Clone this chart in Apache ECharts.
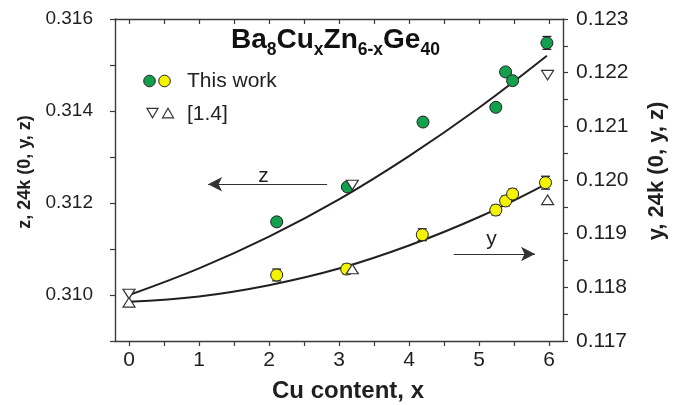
<!DOCTYPE html>
<html>
<head>
<meta charset="utf-8">
<script src="https://cdn.jsdelivr.net/npm/echarts@6/dist/echarts.min.js"></script>
<style>
  html, body { margin: 0; padding: 0; background: #fff; }
  #chart { width: 685px; height: 405px; }
</style>
</head>
<body>
<div id="chart"></div>
<script>
// Samples from this work: z of the 24k site (left axis)
const cuZ   = [2.11, 3.12, 4.2, 5.24, 5.38, 5.48, 5.97];
const zThis = [0.31159, 0.31235, 0.31376, 0.31408, 0.31485, 0.31466, 0.31548];
const zErr  = [0.00008, 0.00008, 0.00008, 0.00008, 0.00008, 0.00008, 0.00014];

// Samples from this work: y of the 24k site (right axis)
const cuY   = [2.11, 3.11, 4.19, 5.24, 5.38, 5.48, 5.95];
const yThis = [0.11823, 0.11834, 0.11898, 0.11944, 0.11961, 0.11974, 0.11995];
const yErr  = [0.00011, 0.00009, 0.00011, 0.00009, 0.00009, 0.00009, 0.00012];

// Literature values [1.4]
const cuRef = [0, 3.19, 5.98];
const zRef  = [0.31002, 0.31239, 0.31478];
const yRef  = [0.11772, 0.11834, 0.11963];

// Trend curves
const fitCuZ = [0, 1, 2, 3, 4, 5, 5.97];
const fitZ   = [0.31000, 0.31058, 0.31127, 0.31208, 0.31302, 0.31407, 0.31520];
const fitCuY = [0, 1, 2, 3, 4, 5, 5.95];
const fitY   = [0.11773, 0.11783, 0.11804, 0.11835, 0.11878, 0.11931, 0.11992];

// Axis ticks
const xTickValues  = [0, 0.5, 1, 1.5, 2, 2.5, 3, 3.5, 4, 4.5, 5, 5.5, 6];
const xLabelValues = [0, 1, 2, 3, 4, 5, 6];

const FONT = 'Liberation Sans, Arial, Helvetica, sans-serif';
const INK = '#1f1f1f';
const AXIS = '#3a3a3a';
const GREEN = '#12a04c';
const YELLOW = '#f4f400';

const pairs = (xs, ys, es) => xs.map((x, i) => es ? [x, ys[i], es[i]] : [x, ys[i]]);

// vertical error bar with short caps, drawn beneath the markers
function errorBar(params, api) {
  const x = api.value(0), v = api.value(1), e = api.value(2);
  const a = api.coord([x, v + e]);
  const b = api.coord([x, v - e]);
  const hw = 4.5;
  const st = { stroke: '#222', lineWidth: 1.3 };
  return {
    type: 'group',
    children: [
      { type: 'line', z2: 0, shape: { x1: a[0], y1: a[1], x2: b[0], y2: b[1] }, style: st },
      { type: 'line', z2: 0, shape: { x1: a[0] - hw, y1: a[1], x2: a[0] + hw, y2: a[1] }, style: st },
      { type: 'line', z2: 0, shape: { x1: b[0] - hw, y1: b[1], x2: b[0] + hw, y2: b[1] }, style: st }
    ]
  };
}

const chart = echarts.init(document.getElementById('chart'), null, { renderer: 'canvas' });

const xBase = {
  type: 'value', min: -0.2, max: 6.2,
  splitLine: { show: false },
  axisLine: { show: true, onZero: false, lineStyle: { color: AXIS, width: 1.4 } }
};

chart.setOption({
  animation: false,
  backgroundColor: '#fff',
  textStyle: { fontFamily: FONT },
  grid: { left: 115, right: 122, top: 19, bottom: 64, containLabel: false },
  xAxis: [
    Object.assign({}, xBase, {
      position: 'bottom',
      axisTick: { show: true, inside: false, length: 5, customValues: xTickValues, lineStyle: { color: AXIS, width: 1.2 } },
      axisLabel: { show: true, customValues: xLabelValues, margin: 9, fontSize: 21, color: INK, fontFamily: FONT }
    }),
    Object.assign({}, xBase, {
      position: 'top',
      axisTick: { show: true, inside: true, length: 5, customValues: xTickValues, lineStyle: { color: AXIS, width: 1.2 } },
      axisLabel: { show: false }
    })
  ],
  yAxis: [
    {
      type: 'value', position: 'left', min: 0.309, max: 0.316, interval: 0.001,
      splitLine: { show: false },
      axisLine: { show: true, onZero: false, lineStyle: { color: AXIS, width: 1.4 } },
      axisTick: { show: true, inside: false, length: 5, lineStyle: { color: AXIS, width: 1.2 } },
      axisLabel: {
        margin: 22, fontSize: 19, color: INK, fontFamily: FONT,
        formatter: v => { const k = Math.round(v * 1000); return k % 2 === 0 ? (k / 1000).toFixed(3) : ''; }
      }
    },
    {
      type: 'value', position: 'right', min: 0.117, max: 0.123, interval: 0.0005,
      splitLine: { show: false },
      axisLine: { show: true, onZero: false, lineStyle: { color: AXIS, width: 1.4 } },
      axisTick: { show: true, inside: false, length: 5, lineStyle: { color: AXIS, width: 1.2 } },
      axisLabel: {
        margin: 13, fontSize: 21, color: INK, fontFamily: FONT,
        formatter: v => { const k = Math.round(v * 2000); return k % 2 === 0 ? (k / 2000).toFixed(3) : ''; }
      }
    }
  ],
  series: [
    {
      name: 'z error', type: 'custom', xAxisIndex: 0, yAxisIndex: 0, z: 1,
      renderItem: errorBar, data: pairs(cuZ, zThis, zErr), silent: true
    },
    {
      name: 'y error', type: 'custom', xAxisIndex: 0, yAxisIndex: 1, z: 1,
      renderItem: errorBar, data: pairs(cuY, yThis, yErr), silent: true
    },
    {
      name: 'z trend', type: 'line', xAxisIndex: 0, yAxisIndex: 0, z: 2,
      smooth: 0.4, showSymbol: false, symbol: 'none',
      lineStyle: { color: '#231f20', width: 2 },
      data: pairs(fitCuZ, fitZ),
      markLine: {
        silent: true, symbol: ['none', 'arrow'], symbolSize: [11, 14],
        label: { show: false },
        lineStyle: { color: '#333', width: 1.2, type: 'solid' },
        data: [[{ coord: [2.83, 0.312407] }, { coord: [1.13, 0.312407] }]]
      }
    },
    {
      name: 'y trend', type: 'line', xAxisIndex: 0, yAxisIndex: 1, z: 2,
      smooth: 0.4, showSymbol: false, symbol: 'none',
      lineStyle: { color: '#231f20', width: 2 },
      data: pairs(fitCuY, fitY),
      markLine: {
        silent: true, symbol: ['none', 'arrow'], symbolSize: [11, 14],
        label: { show: false },
        lineStyle: { color: '#333', width: 1.2, type: 'solid' },
        data: [[{ coord: [4.64, 0.118621] }, { coord: [5.8, 0.118621] }]]
      }
    },
    {
      name: 'z this work', type: 'scatter', xAxisIndex: 0, yAxisIndex: 0, z: 5,
      symbol: 'circle', symbolSize: 12,
      itemStyle: { color: GREEN, borderColor: '#222', borderWidth: 1, opacity: 1 },
      data: pairs(cuZ, zThis)
    },
    {
      name: 'y this work', type: 'scatter', xAxisIndex: 0, yAxisIndex: 1, z: 5,
      symbol: 'circle', symbolSize: 12,
      itemStyle: { color: YELLOW, borderColor: '#222', borderWidth: 1, opacity: 1 },
      data: pairs(cuY, yThis)
    },
    {
      name: 'z [1.4]', type: 'scatter', xAxisIndex: 0, yAxisIndex: 0, z: 6,
      symbol: 'triangle', symbolSize: [12, 9.5], symbolRotate: 180,
      itemStyle: { color: '#fff', borderColor: '#333', borderWidth: 1.2, opacity: 1 },
      data: pairs(cuRef, zRef)
    },
    {
      name: 'y [1.4]', type: 'scatter', xAxisIndex: 0, yAxisIndex: 1, z: 6,
      symbol: 'triangle', symbolSize: [12, 9.5],
      itemStyle: { color: '#fff', borderColor: '#333', borderWidth: 1.2, opacity: 1 },
      data: pairs(cuRef, yRef)
    }
  ],
  graphic: [
    // compound formula with subscripts
    {
      type: 'text', left: 231, top: 26, z: 10,
      style: {
        text: '{b|Ba}{s|8}{b|Cu}{s|x}{b|Zn}{s|6-x}{b|Ge}{s|40}',
        fill: '#111',
        rich: {
          b: { fontSize: 28, fontWeight: 'bold', fontFamily: FONT, lineHeight: 38, verticalAlign: 'middle', fill: '#111' },
          s: { fontSize: 17.5, fontWeight: 'bold', fontFamily: FONT, lineHeight: 17, height: 17, verticalAlign: 'bottom', fill: '#111' }
        }
      }
    },
    // legend
    { type: 'circle', shape: { cx: 149.5, cy: 81, r: 5.8 }, style: { fill: GREEN, stroke: '#222', lineWidth: 1 }, z: 10 },
    { type: 'circle', shape: { cx: 164.5, cy: 81, r: 5.8 }, style: { fill: YELLOW, stroke: '#222', lineWidth: 1 }, z: 10 },
    { type: 'text', x: 187, y: 81, z: 10, style: { text: 'This work', font: '21px ' + FONT, fill: INK, textAlign: 'left', textVerticalAlign: 'middle' } },
    { type: 'polygon', shape: { points: [[147, 108.3], [158, 108.3], [152.5, 117.8]] }, style: { fill: '#fff', stroke: '#333', lineWidth: 1.2 }, z: 10 },
    { type: 'polygon', shape: { points: [[162.5, 117.8], [173.5, 117.8], [168, 108.3]] }, style: { fill: '#fff', stroke: '#333', lineWidth: 1.2 }, z: 10 },
    { type: 'text', x: 187, y: 114, z: 10, style: { text: '[1.4]', font: '21px ' + FONT, fill: INK, textAlign: 'left', textVerticalAlign: 'middle' } },
    // arrow captions
    { type: 'text', x: 263.5, y: 176, z: 10, style: { text: 'z', font: '21px ' + FONT, fill: INK, textAlign: 'center', textVerticalAlign: 'middle' } },
    { type: 'text', x: 491.5, y: 239, z: 10, style: { text: 'y', font: '21px ' + FONT, fill: INK, textAlign: 'center', textVerticalAlign: 'middle' } },
    // axis titles
    { type: 'text', x: 25, y: 172, rotation: Math.PI / 2, z: 10, style: { text: 'z, 24k (0, y, z)', font: 'bold 18px ' + FONT, fill: INK, textAlign: 'center', textVerticalAlign: 'middle' } },
    { type: 'text', x: 657, y: 171, rotation: Math.PI / 2, z: 10, style: { text: 'y, 24k (0, y, z)', font: 'bold 22px ' + FONT, fill: INK, textAlign: 'center', textVerticalAlign: 'middle' } },
    { type: 'text', x: 348, y: 391, z: 10, style: { text: 'Cu content, x', font: 'bold 24px ' + FONT, fill: INK, textAlign: 'center', textVerticalAlign: 'middle' } }
  ]
});
</script>
</body>
</html>
